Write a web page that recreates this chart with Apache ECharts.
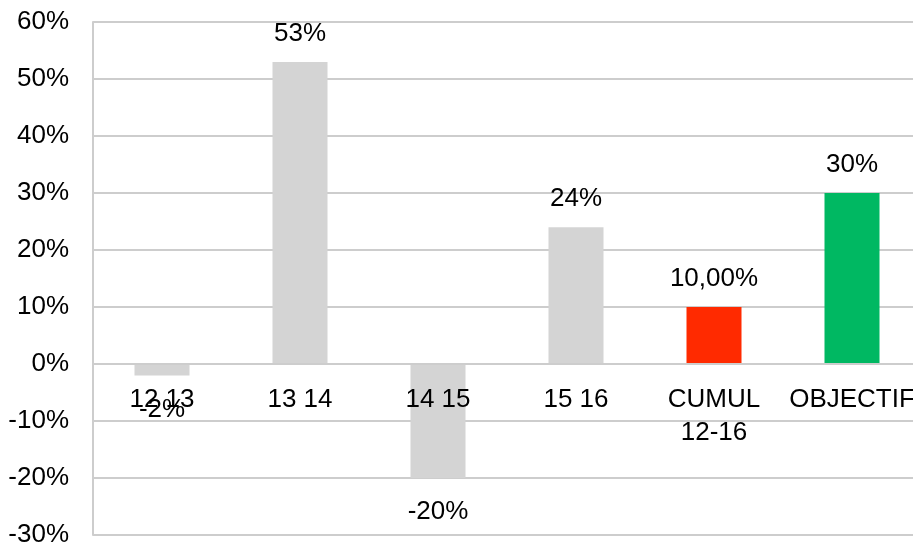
<!DOCTYPE html>
<html>
<head>
<meta charset="utf-8">
<style>
  html, body { margin: 0; padding: 0; background: #ffffff; }
  #chart { width: 913px; height: 548px; }
</style>
<script src="https://cdn.jsdelivr.net/npm/echarts@6/dist/echarts.min.js"></script>
</head>
<body>
<div id="chart"></div>
<script>
// Year-on-year change, cumulative result and target (in %)
const categories = ['12 13', '13 14', '14 15', '15 16', 'CUMUL\n12-16', 'OBJECTIF'];
const values = [-2, 53, -20, 24, 10, 30];
const valueLabels = ['-2%', '53%', '-20%', '24%', '10,00%', '30%'];
const barColors = ['#d4d4d4', '#d4d4d4', '#d4d4d4', '#d4d4d4', '#ff2a00', '#00b862'];
const yTicks = { min: -30, max: 60, step: 10 };

const FONT = 'Liberation Sans, Arial, sans-serif';
const FS = 26;
const GRID = '#cdcdcd';

const GRID_TOP = 22;
const GRID_HEIGHT = 513;
// Category axis sits on the zero line: shift it up from the plot bottom
const zeroOffset = -GRID_HEIGHT * (0 - yTicks.min) / (yTicks.max - yTicks.min);

const chart = echarts.init(document.getElementById('chart'), null, { renderer: 'canvas' });

const seriesData = values.map((v, i) => ({
  value: v,
  itemStyle: { color: barColors[i] },
  label: {
    show: true,
    position: v < 0 ? 'bottom' : 'top',
    distance: v < 0 ? 21 : 15,
    formatter: valueLabels[i],
    color: '#000',
    fontFamily: FONT,
    fontSize: FS
  }
}));

chart.setOption({
  animation: false,
  backgroundColor: '#ffffff',
  grid: {
    left: 93, top: GRID_TOP, width: 828, height: GRID_HEIGHT,
    containLabel: false, outerBoundsMode: 'none'
  },
  xAxis: {
    type: 'category',
    data: categories,
    offset: zeroOffset,
    z: 5,
    axisLine: { show: true, onZero: false, lineStyle: { color: GRID, width: 2 } },
    axisTick: { show: false },
    axisLabel: {
      color: '#000',
      fontFamily: FONT,
      fontSize: FS,
      lineHeight: 33,
      margin: 19,
      interval: 0
    },
    splitLine: { show: false }
  },
  yAxis: {
    type: 'value',
    min: yTicks.min,
    max: yTicks.max,
    interval: yTicks.step,
    axisLine: { show: true, lineStyle: { color: GRID, width: 2 } },
    axisTick: { show: false },
    axisLabel: {
      color: '#000',
      fontFamily: FONT,
      fontSize: FS,
      margin: 24,
      formatter: v => v + '%'
    },
    splitLine: { show: true, lineStyle: { color: GRID, width: 2 } }
  },
  series: [{
    type: 'bar',
    data: seriesData,
    barWidth: 55,
    z: 2
  }]
});
</script>
</body>
</html>
